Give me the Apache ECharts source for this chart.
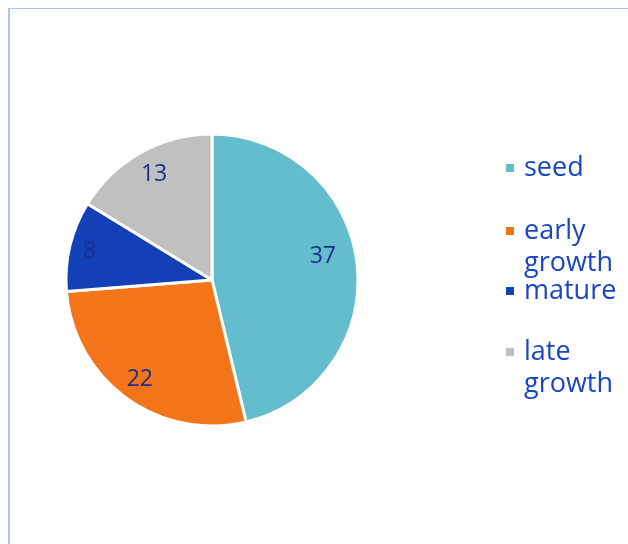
<!DOCTYPE html>
<html>
<head>
<meta charset="utf-8">
<script src="https://cdn.jsdelivr.net/npm/echarts@6/dist/echarts.min.js"></script>
<style>
  html, body { margin: 0; padding: 0; background: #ffffff; }
  #chart { width: 628px; height: 544px; }
</style>
</head>
<body>
<div id="chart"></div>
<script>
// Stage shares of the portfolio
var stages = ['seed', 'early growth', 'mature', 'late growth'];
var shares = [37, 22, 8, 13];
var stageColors = ['#63bdcd', '#f47519', '#133fb7', '#c0c0c0'];
// Vertical centre of each legend marker
var legendRows = [166, 229, 289, 350];

var pieCenter = [212, 280];
var pieRadius = 146;
var lineH = 32;

var pieData = stages.map(function (name, i) {
  return { name: name, value: shares[i], itemStyle: { color: stageColors[i] } };
});

// One legend per stage so every row sits at its own height; two-word names wrap,
// with an empty leading line so the marker lines up with the first word.
var legends = stages.map(function (name, i) {
  var twoLines = name.indexOf(' ') >= 0;
  return {
    orient: 'vertical',
    left: 504,
    top: (twoLines ? legendRows[i] - lineH * 1.5 : legendRows[i] - lineH / 2) + 2,
    padding: 0,
    itemWidth: 10,
    itemHeight: 10,
    icon: 'rect',
    selectedMode: false,
    data: [name],
    formatter: function (n) { return n.indexOf(' ') >= 0 ? ' \n' + n.replace(' ', '\n') : n; },
    textStyle: {
      fontFamily: 'Open Sans',
      fontSize: 27,
      color: '#1a45c2',
      lineHeight: lineH,
      padding: [0, 0, 0, 4]
    }
  };
});

var labelOffsets = { seed: [-11, -9], mature: [-3, 0], 'late growth': [2, 2] };

var chart = echarts.init(document.getElementById('chart'), null, { renderer: 'canvas' });
chart.setOption({
  animation: false,
  backgroundColor: '#ffffff',
  legend: legends,
  graphic: [
    { type: 'rect', shape: { x: 9, y: 8, width: 619, height: 1 }, style: { fill: '#adc2ff' } },
    { type: 'rect', shape: { x: 8, y: 8, width: 2, height: 536 }, style: { fill: '#adc2ff' } }
  ],
  series: [
    {
      type: 'pie',
      center: pieCenter,
      radius: [0, pieRadius],
      startAngle: 90,
      clockwise: true,
      silent: true,
      data: pieData,
      itemStyle: { borderColor: '#ffffff', borderWidth: 3 },
      label: { show: false },
      labelLine: { show: false }
    },
    {
      // transparent ring that carries the value labels further out than the slice midpoint
      type: 'pie',
      center: pieCenter,
      radius: [pieRadius * 0.64, pieRadius],
      startAngle: 90,
      clockwise: true,
      silent: true,
      data: pieData.map(function (d) {
        var item = { name: d.name, value: d.value, itemStyle: { color: 'rgba(0,0,0,0)' } };
        if (labelOffsets[d.name]) item.label = { offset: labelOffsets[d.name] };
        return item;
      }),
      itemStyle: { borderWidth: 0 },
      label: {
        show: true,
        position: 'inside',
        formatter: '{c}',
        fontFamily: 'Open Sans',
        fontSize: 23,
        color: '#1d2f86'
      },
      labelLine: { show: false }
    }
  ]
});
</script>
</body>
</html>
